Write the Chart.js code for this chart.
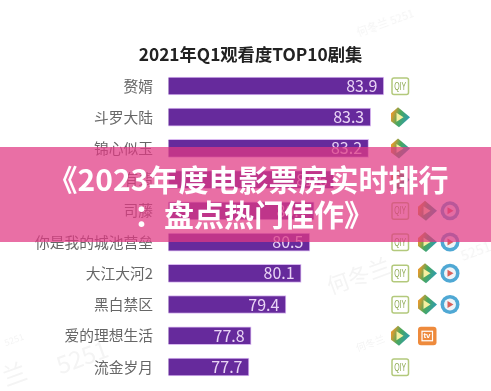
<!DOCTYPE html>
<html><head><meta charset="utf-8">
<style>
html,body{margin:0;padding:0;background:#fff;width:491px;height:391px;overflow:hidden}
#w{position:relative;width:491px;height:391px}
canvas{position:absolute;left:0;top:0}
#band{position:absolute;left:0;top:147px;width:491px;height:95px;background:rgba(225,58,131,.73)}
#cap{position:absolute;left:0;top:161px;width:496px;text-align:center;color:#fff;font:700 30px/35px "Noto Sans CJK SC";white-space:nowrap}
#cap div+div{margin-left:12px}
#wm span{position:absolute;color:#f4f4f4;font-family:"Noto Sans CJK SC";transform:rotate(-20deg);white-space:nowrap}
</style>
<script src="https://cdn.jsdelivr.net/npm/chart.js@4"></script>
</head><body><div id="w">
<canvas id="c" width="491" height="391"></canvas>
<div id="wm"><span style="left:355px;top:14px;font-size:11px">何冬兰 5251</span><span style="left:325px;top:258px;font-size:22px">何冬兰</span><span style="left:55px;top:338px;font-size:24px">5251</span><span style="left:4px;top:333px;font-size:9px">5251</span><span style="left:2px;top:355px;font-size:24px">兰</span><span style="left:355px;top:335px;font-size:10px">何冬兰</span><span style="left:460px;top:240px;font-size:14px">5251</span></div>
<div id="band"></div>
<div id="cap"><div>《2023年度电影票房实时排行</div><div>：盘点热门佳作》</div></div>
</div>
<script>
const titleText = "2021年Q1观看度TOP10剧集";
const categories = ["赘婿","斗罗大陆","锦心似玉","有翡","司藤","你是我的城池营垒","大江大河2","黑白禁区","爱的理想生活","流金岁月"];
const scores = [83.9,83.3,83.2,81.6,80.7,80.5,80.1,79.4,77.8,77.7];
const platforms = [["i"],["t"],["t"],["t"],["i","t","y"],["i","t","y"],["i","t","y"],["i","t","y"],["t","m"],["i"]];

function iconI(x,y,g){g.save();g.strokeStyle="#b3c97c";g.lineWidth=1.5;g.beginPath();g.roundRect(x-8,y-8,16.5,16.5,2);g.stroke();g.fillStyle="#8fab55";g.font="400 11px 'Liberation Sans'";g.textAlign="center";g.textBaseline="middle";g.fillText("QIY",x+.2,y+.5,12);g.restore();}
function iconT(x,y,g){g.save();g.beginPath();g.moveTo(x-9,y-4);g.lineTo(x-2,y-10);g.lineTo(x+10,y);g.lineTo(x-1,y+10);g.lineTo(x-9,y+4);g.closePath();const l=g.createLinearGradient(x-9,y,x+9,y+6);l.addColorStop(0,"#e39a2e");l.addColorStop(.4,"#4aa85e");l.addColorStop(1,"#2a9ab8");g.fillStyle=l;g.fill();g.fillStyle="#f6efa0";g.beginPath();g.moveTo(x-3.5,y-4.5);g.lineTo(x+3.5,y);g.lineTo(x-3.5,y+4.5);g.closePath();g.fill();g.restore();}
function iconY(x,y,g){g.save();g.fillStyle="#4fa8d4";g.beginPath();g.arc(x,y,9.5,0,7);g.fill();g.fillStyle="#eef4f8";g.beginPath();g.arc(x,y,6,0,7);g.fill();g.fillStyle="#d9605a";g.beginPath();g.moveTo(x-2.5,y-3.5);g.lineTo(x+3.5,y);g.lineTo(x-2.5,y+3.5);g.closePath();g.fill();g.restore();}
function iconM(x,y,g){g.save();g.fillStyle="#ee8a3c";g.beginPath();g.roundRect(x-9,y-9,18.5,18.5,3);g.fill();g.strokeStyle="#fff";g.lineWidth=1.2;g.strokeRect(x-5,y-4.5,10.5,9.5);g.fillStyle="#fff";g.font="700 8px 'Liberation Sans'";g.textAlign="center";g.textBaseline="middle";g.fillText("tv",x,y+.5);g.restore();}
const draw={i:iconI,t:iconT,y:iconY,m:iconM};
const slots=[400,427,450];

const extras={id:"extras",afterDatasetsDraw(ch){
  const g=ch.ctx,m=ch.getDatasetMeta(0);
  g.save();g.font="16px 'Noto Sans CJK SC'";g.fillStyle="#e9d4f5";g.textAlign="right";g.textBaseline="middle";
  m.data.forEach((b,i)=>g.fillText(scores[i].toFixed(1),b.x-6.5,b.y));
  g.restore();
  m.data.forEach((b,i)=>platforms[i].forEach((p,k)=>{
    const x=(p==="m")?slots[1]:slots[k];
    draw[p](x,b.y,g);
  }));
}};

new Chart(document.getElementById("c"),{
  type:"bar",
  data:{labels:categories,datasets:[{data:scores,backgroundColor:"#662a9c",borderColor:"#d9b8f0",borderWidth:1,borderSkipped:false,barThickness:18}]},
  plugins:[extras],
  options:{indexAxis:"y",responsive:false,animation:false,
    layout:{padding:{left:10,right:0,top:0,bottom:8.4}},
    plugins:{legend:{display:false},tooltip:{enabled:false},
      title:{display:true,text:titleText,color:"#222",font:{family:"Noto Sans CJK SC",size:17.3,weight:"700"},padding:{top:44,bottom:5.6}}},
    scales:{
      x:{display:false,min:74,max:88.83},
      y:{grid:{display:false},border:{display:false},
        ticks:{color:"#666",padding:7.5,autoSkip:false,font:{family:"Noto Sans CJK SC",size:14.75}},
        afterFit(s){s.width=158.5;s.paddingTop=0;s.paddingBottom=0;}}
    }
  }
});
</script></body></html>
